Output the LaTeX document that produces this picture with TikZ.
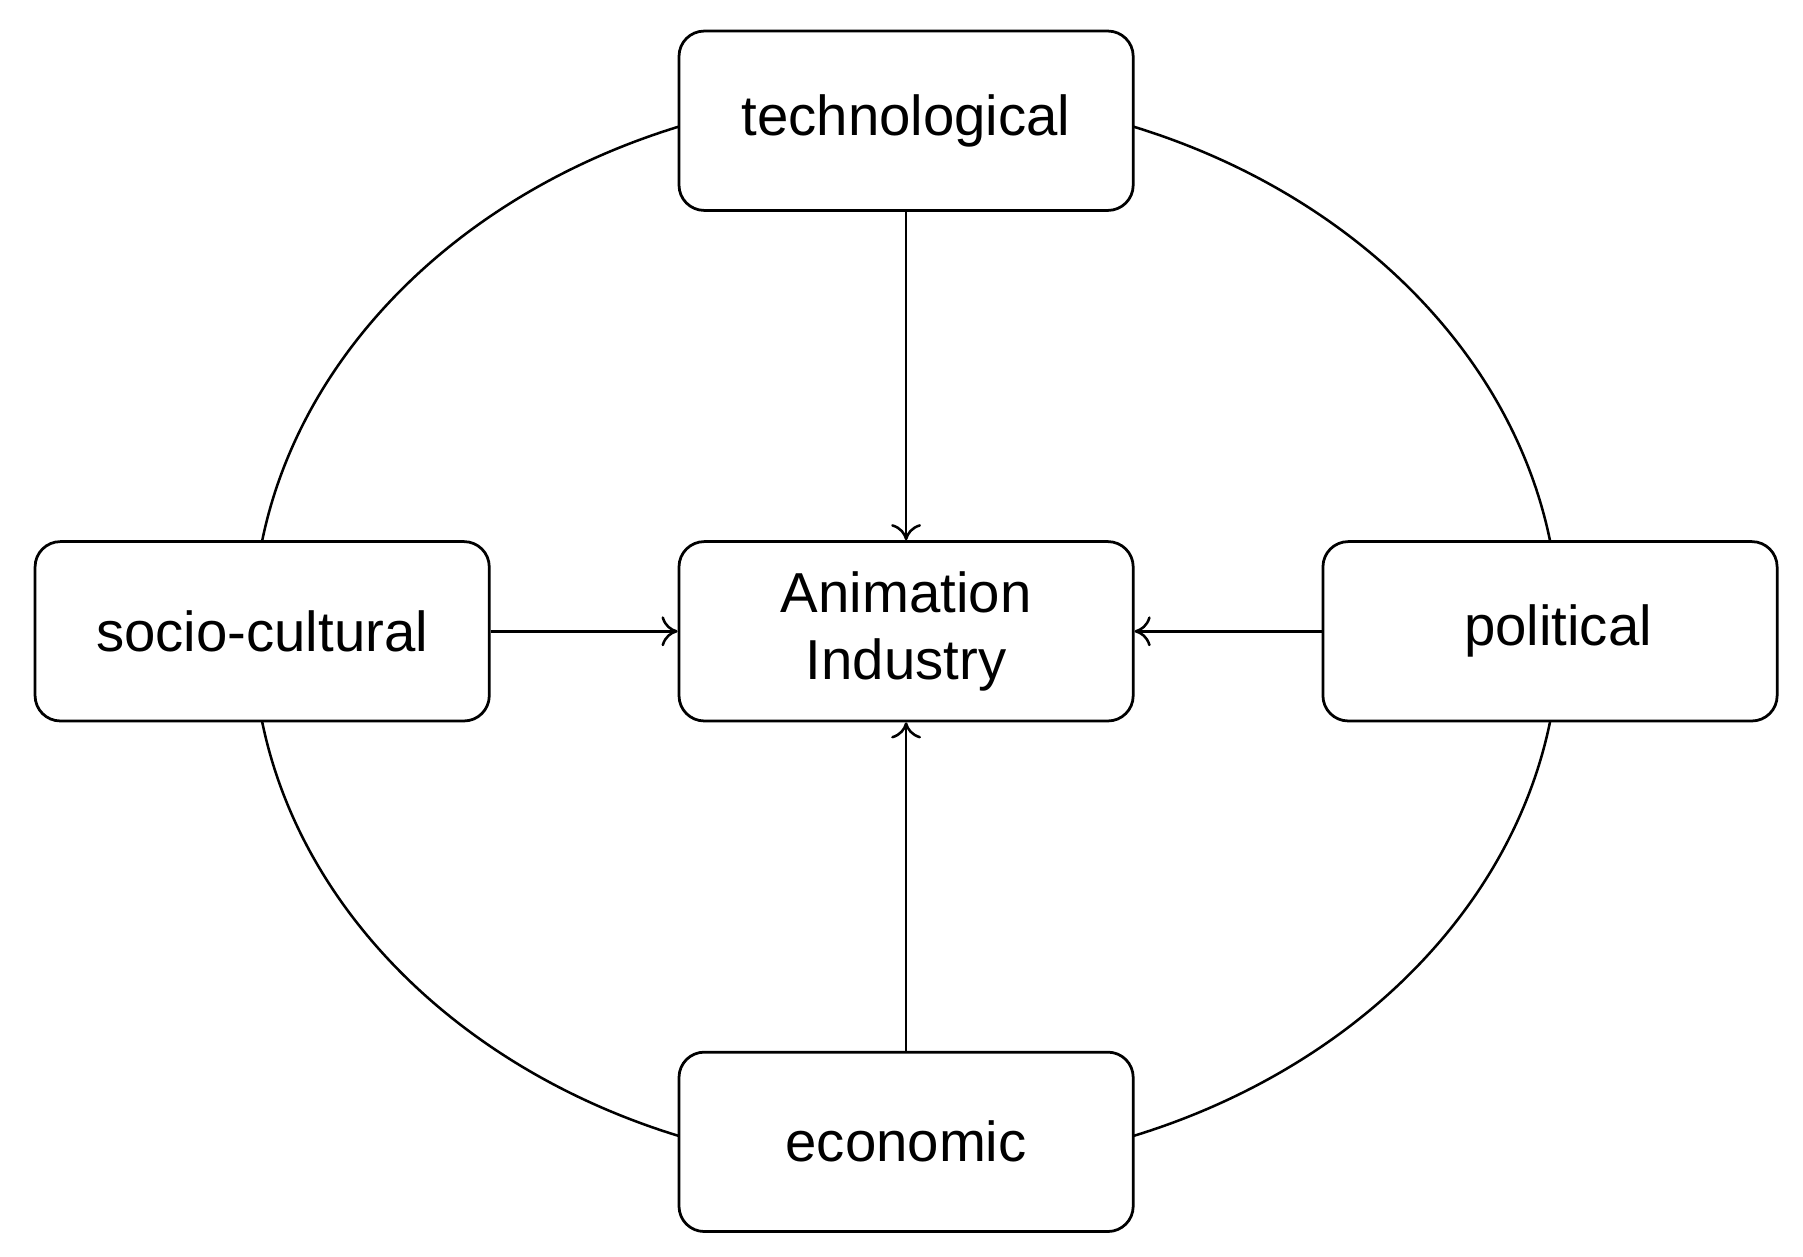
\documentclass[tikz,border=0pt]{standalone}
\usepackage{fontspec}
\setmainfont{Liberation Sans}
\usetikzlibrary{arrows.meta}
\begin{document}
\begin{tikzpicture}[x=1pt,y=-1pt,
  box/.style={draw,fill=white,rounded corners=22pt,line width=2.4pt,minimum width=395pt,minimum height=156pt,align=center,font=\fontsize{49}{58}\selectfont,inner sep=0pt},
  arr/.style={line width=2.2pt,-{To[length=14pt,width=26pt,line width=2.2pt]}}]
\useasboundingbox (0,0) rectangle (1568,1093);
\draw[line width=2.2pt] (788,549) ellipse [x radius=568, y radius=468];
\node[box] (tech) at (788,105) {technological};
\node[box] (anim) at (788,549) {Animation\\Industry};
\node[box] (soc) at (228,549) {socio-cultural};
\node[box] (pol) at (1348,549) {\hspace*{14pt}political};
\node[box] (eco) at (788,993) {economic};
\draw[arr] (tech) -- (anim);
\draw[arr] (soc) -- (anim);
\draw[arr] (pol) -- (anim);
\draw[arr] (eco) -- (anim);
\end{tikzpicture}
\end{document}
